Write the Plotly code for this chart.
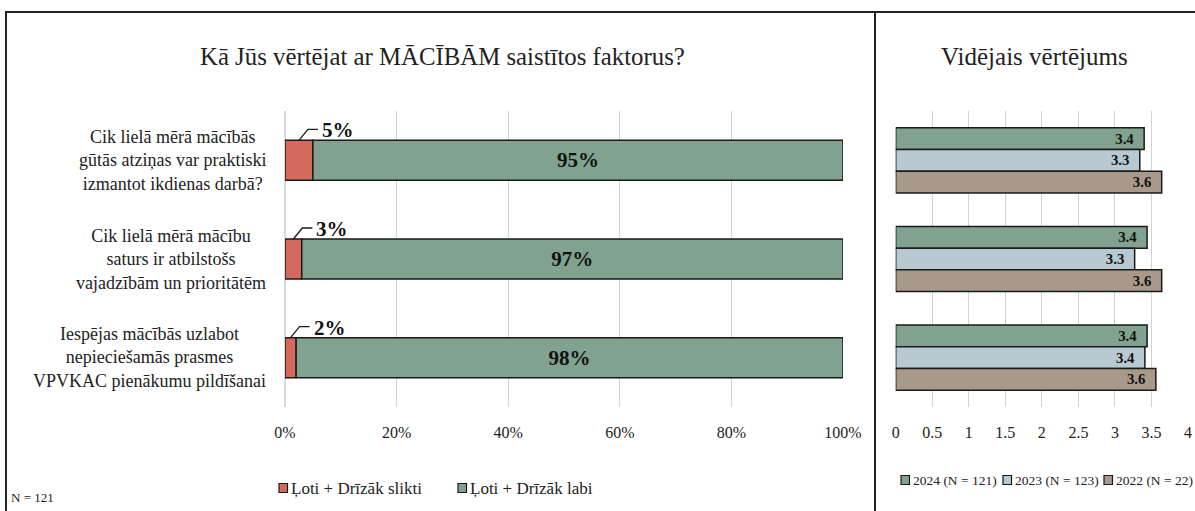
import plotly.graph_objects as go

# Questions (left panel categories)
questions = [
    "Cik lielā mērā mācībās<br>gūtās atziņas var praktiski<br>izmantot ikdienas darbā?",
    "Cik lielā mērā mācību<br>saturs ir atbilstošs<br>vajadzībām un prioritātēm",
    "Iespējas mācībās uzlabot<br>nepieciešamās prasmes<br>VPVKAC pienākumu pildīšanai",
]
cat_ids = ["q1", "q2", "q3"]

# Share of answers, %
bad_pct = [5, 3, 2]
good_pct = [95, 97, 98]
pct_names = ["Ļoti + Drīzāk slikti", "Ļoti + Drīzāk labi"]

# Average rating by year
avg_2024 = [3.40, 3.44, 3.44]
avg_2023 = [3.34, 3.27, 3.41]
avg_2022 = [3.64, 3.64, 3.56]
year_names = ["2024 (N = 121)", "2023 (N = 123)", "2022 (N = 22)"]

pct_ticks = [0, 20, 40, 60, 80, 100]
avg_ticks = [0, 0.5, 1, 1.5, 2, 2.5, 3, 3.5, 4]

W, H = 1195, 511
FONT = "Liberation Serif, DejaVu Serif, serif"
RED, GREEN, BLUE, TAN = "#D4695E", "#80A28F", "#B8C9D1", "#A89A8A"
GRID = "#C8D8CF"
INK = "#1a1a1a"
OUTLINE = dict(color=INK, width=1.5)
NBSP = "\u00a0"


def px(x):
    return x / W


def py(y):
    return 1 - y / H


fig = go.Figure()

# Left panel: stacked percentages
fig.add_trace(go.Bar(
    y=cat_ids, x=bad_pct, orientation="h", name=pct_names[0],
    marker=dict(color=RED, line=OUTLINE), width=0.405,
    xaxis="x", yaxis="y", hoverinfo="skip",
))
fig.add_trace(go.Bar(
    y=cat_ids, x=good_pct, base=bad_pct, orientation="h", name=pct_names[1],
    marker=dict(color=GREEN, line=OUTLINE), width=0.405,
    text=[f"<b>{v}%</b>" for v in good_pct], textposition="inside",
    insidetextanchor="middle", textfont=dict(family=FONT, size=21, color="#111"),
    xaxis="x", yaxis="y", hoverinfo="skip",
))

# Right panel: grouped averages
year_colors = [GREEN, BLUE, TAN]
for vals, name, col, off in zip([avg_2024, avg_2023, avg_2022], year_names,
                                year_colors, [-0.33, -0.11, 0.11]):
    fig.add_trace(go.Bar(
        y=cat_ids, x=vals, orientation="h", name=name,
        marker=dict(color=col, line=OUTLINE), width=0.22, offset=off,
        text=[f"<b>{v:.1f}</b>{NBSP * 2}" for v in vals], textposition="inside",
        insidetextanchor="end", textfont=dict(family=FONT, size=16, color="#111"),
        xaxis="x2", yaxis="y2", hoverinfo="skip",
    ))

ydom = [py(407), py(111)]

fig.update_layout(
    width=W, height=H, margin=dict(l=0, r=0, t=0, b=0, autoexpand=False),
    paper_bgcolor="white", plot_bgcolor="white",
    barmode="overlay", showlegend=False,
    font=dict(family=FONT, size=16, color="#222"),
    xaxis=dict(domain=[px(285), px(843)], range=[0, 100], tickvals=pct_ticks,
               ticktext=[f"{t}%" for t in pct_ticks], showgrid=True, gridcolor=GRID,
               gridwidth=1, zeroline=True, zerolinecolor="#D9D9D9", zerolinewidth=1.5,
               ticks="", anchor="y", tickfont=dict(family=FONT, size=16),
               ticklabelstandoff=14, automargin=False),
    yaxis=dict(domain=ydom, autorange="reversed", showticklabels=False,
               showgrid=False, zeroline=False, anchor="x", type="category",
               automargin=False),
    xaxis2=dict(domain=[px(895.7), px(1188)], range=[0, 4], tickvals=avg_ticks,
                showgrid=True, gridcolor=GRID, gridwidth=1, zeroline=False,
                ticks="", anchor="y2", tickfont=dict(family=FONT, size=16),
                ticklabelstandoff=14, automargin=False),
    yaxis2=dict(domain=ydom, autorange="reversed", showticklabels=False,
                showgrid=False, zeroline=False, anchor="x2", type="category",
                automargin=False),
)


def paper_text(text, x, y, size, xanchor="center"):
    return dict(text=text, x=px(x), y=py(y), xref="paper", yref="paper",
                xanchor=xanchor, yanchor="middle", showarrow=False,
                font=dict(family=FONT, size=size))


annotations = [
    paper_text("Kā Jūs vērtējat ar MĀCĪBĀM saistītos faktorus?", 442, 57, 24.8),
    paper_text("Vidējais vērtējums", 1034, 57, 25),
    paper_text("N = 121", 9, 497, 13, xanchor="left"),
]
# Question labels, each block centred and right-aligned to the plot
for i, q in enumerate(questions):
    annotations.append(dict(text=q, x=px(268), y=i, xref="paper", yref="y",
                            xanchor="right", yanchor="middle", align="center",
                            showarrow=False, font=dict(family=FONT, size=18)))
# Small-share labels above the red segments
for i, v in enumerate(bad_pct):
    annotations.append(dict(text=f"<b>{v}%</b>", x=v / 2, y=i, xref="x", yref="y",
                            xanchor="left", yanchor="middle", xshift=21, yshift=30,
                            showarrow=False, font=dict(family=FONT, size=21, color="#111")))

shapes = []
# Leader lines from red segments to their labels
for i, v in enumerate(bad_pct):
    shapes.append(dict(type="path", xref="x", yref="y", xsizemode="pixel",
                       ysizemode="pixel", xanchor=v / 2, yanchor=i,
                       path="M 0 20 L 9 31 L 19 31",
                       line=dict(color=INK, width=1.3)))


def legend_row(names, colors, square_x, y, size):
    """Square swatch + label entries placed along one row (paper pixels)."""
    for name, col, sx in zip(names, colors, square_x):
        shapes.append(dict(type="rect", xref="paper", yref="paper",
                           x0=px(sx), x1=px(sx + 8.5), y0=py(y + 4.5), y1=py(y - 4.5),
                           fillcolor=col, line=dict(color=INK, width=1.2)))
        annotations.append(paper_text(name, sx + 10, y, size, xanchor="left"))


legend_row(pct_names, [RED, GREEN], [279, 458], 488, 17)
legend_row(year_names, year_colors, [901, 1003, 1104], 480, 13.5)

# Frame and divider
shapes += [
    dict(type="path", xref="paper", yref="paper",
         path=f"M {px(6)} 0 L {px(6)} {py(12)} L 1 {py(12)}",
         line=dict(color="#222", width=2)),
    dict(type="line", xref="paper", yref="paper", x0=px(875), x1=px(875), y0=0, y1=py(12),
         line=dict(color="#222", width=2)),
]
fig.update_layout(shapes=shapes, annotations=annotations)

fig.write_html("out.html")
